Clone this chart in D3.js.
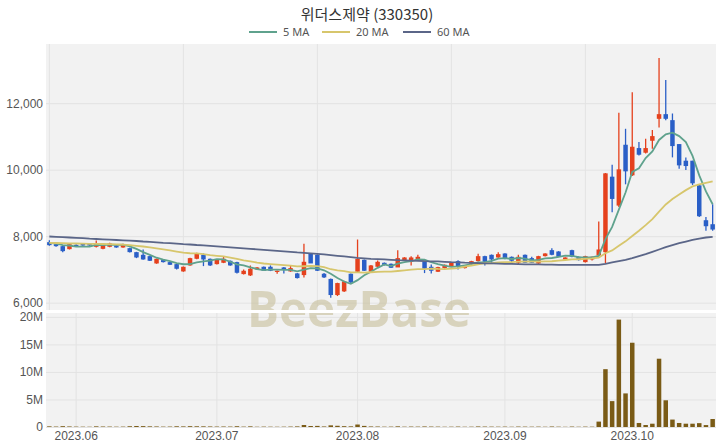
<!DOCTYPE html>
<html><head><meta charset="utf-8">
<script src="https://cdn.jsdelivr.net/npm/d3@7"></script>
<style>body{margin:0;background:#fff;} svg{display:block;font-family:"Noto Sans","Noto Sans CJK KR",sans-serif;}</style>
</head><body><svg id="c" width="720" height="448"></svg>
<script>
const dates = [
"2023-05-25","2023-05-26","2023-05-30","2023-05-31",
"2023-06-01","2023-06-02","2023-06-05","2023-06-07","2023-06-08","2023-06-09","2023-06-12","2023-06-13","2023-06-14","2023-06-15","2023-06-16","2023-06-19","2023-06-20","2023-06-21","2023-06-22","2023-06-23","2023-06-26","2023-06-27","2023-06-28","2023-06-29","2023-06-30",
"2023-07-03","2023-07-04","2023-07-05","2023-07-06","2023-07-07","2023-07-10","2023-07-11","2023-07-12","2023-07-13","2023-07-14","2023-07-17","2023-07-18","2023-07-19","2023-07-20","2023-07-21","2023-07-24","2023-07-25","2023-07-26","2023-07-27","2023-07-28","2023-07-31",
"2023-08-01","2023-08-02","2023-08-03","2023-08-04","2023-08-07","2023-08-08","2023-08-09","2023-08-10","2023-08-11","2023-08-14","2023-08-16","2023-08-17","2023-08-18","2023-08-21","2023-08-22","2023-08-23","2023-08-24","2023-08-25","2023-08-28","2023-08-29","2023-08-30","2023-08-31",
"2023-09-01","2023-09-04","2023-09-05","2023-09-06","2023-09-07","2023-09-08","2023-09-11","2023-09-12","2023-09-13","2023-09-14","2023-09-15","2023-09-18","2023-09-19","2023-09-20","2023-09-21","2023-09-22","2023-09-25","2023-09-26","2023-09-27",
"2023-10-04","2023-10-05","2023-10-06","2023-10-10","2023-10-11","2023-10-12","2023-10-13","2023-10-16","2023-10-17","2023-10-18","2023-10-19","2023-10-20","2023-10-23"];

const openP = [7820,7760,7700,7610,7740,7780,7780,7680,7620,7680,
7720,7660,7640,7520,7440,7400,7180,7280,7220,7160,
6940,7120,7320,7440,7320,7160,7200,7260,7220,6860,
6820,7000,7080,7080,6930,7060,6940,6880,6830,7480,
7440,6870,6715,6230,6340,6870,6930,7290,6930,7080,
7200,7170,7060,7280,7240,7280,7240,7080,6930,7040,
7100,7250,7040,7170,7250,7400,7440,7360,7480,7380,
7200,7440,7340,7180,7400,7580,7540,7300,7580,7380,
7220,7300,7420,7520,9790,8920,10750,9830,10650,10510,
10870,11530,11670,11490,10770,10270,10270,9530,8480,8360];

const highP = [7880,7780,7710,7770,7760,7790,7790,7870,7760,7800,
7730,7770,7650,7530,7600,7410,7330,7290,7230,7170,
7090,7350,7500,7480,7330,7310,7400,7270,7230,7000,
7120,7070,7090,7120,6970,7070,7110,6890,7770,7490,
7450,6890,6730,6600,6660,6880,7900,7300,7130,7270,
7210,7180,7580,7370,7400,7440,7250,7150,7080,7150,
7210,7280,7130,7260,7470,7410,7450,7520,7490,7390,
7440,7450,7380,7410,7490,7640,7550,7370,7590,7390,
7410,7390,8440,9900,10150,11710,11230,12330,10830,10930,
11190,13360,12700,11690,10770,10370,10270,9550,8580,8960];

const lowP = [7710,7680,7520,7600,7690,7710,7710,7660,7610,7670,
7650,7650,7510,7340,7290,7250,7170,7210,7130,7000,
6930,7110,7310,7100,7100,7150,7190,7110,6880,6850,
6800,6990,6950,6950,6870,6880,6930,6730,6760,7190,
6950,6740,6150,6200,6320,6570,6910,6950,6920,7070,
7120,7040,7090,7270,7120,7270,6890,6880,6920,7030,
7090,7000,7030,7160,7240,7120,7200,7350,7310,7200,
7150,7190,7190,7170,7390,7430,7370,7290,7370,7270,
7210,7270,7400,7180,8720,8880,9560,9810,10430,10490,
10630,11270,11490,10370,10030,9990,9540,8580,8160,8160];

const closeP = [7730,7700,7550,7760,7700,7720,7720,7780,7740,7780,
7660,7760,7520,7360,7300,7260,7320,7220,7140,7020,
7080,7340,7480,7300,7120,7300,7320,7120,6900,6960,
7020,7060,6960,6960,6960,7000,7040,6740,7230,7180,
6960,6760,6230,6590,6640,6610,7320,6960,7120,7230,
7130,7050,7340,7360,7360,7380,7020,6960,7070,7140,
7200,7090,7120,7250,7400,7230,7300,7460,7320,7260,
7380,7200,7200,7400,7480,7440,7380,7360,7380,7280,
7400,7380,7600,9890,9120,10010,9950,10690,10450,10650,
11010,11670,11530,10710,10130,10110,9590,8600,8300,8200];

const volume = [120000,80000,150000,100000,70000,60000,50000,120000,90000,80000,
60000,70000,140000,180000,160000,120000,100000,70000,80000,130000,
110000,150000,130000,120000,100000,80000,90000,80000,140000,70000,
120000,50000,70000,60000,50000,60000,80000,110000,360000,180000,
200000,100000,300000,220000,150000,120000,450000,200000,100000,90000,
60000,70000,120000,60000,80000,70000,100000,80000,70000,50000,
60000,80000,50000,60000,100000,80000,70000,60000,70000,50000,
80000,70000,60000,70000,50000,90000,60000,40000,80000,50000,
70000,60000,980000,10500000,4700000,19500000,6100000,15300000,730000,360000,
600000,12400000,4850000,1350000,730000,600000,600000,700000,350000,1450000];

const ma5 = [7800,7780,7730,7720,7688,7686,7690,7736,7732,7748,
7736,7744,7692,7616,7520,7440,7352,7292,7248,7192,
7156,7160,7212,7244,7264,7308,7304,7232,7152,7120,
7064,7012,6980,6992,6992,6988,6984,6940,6994,7038,
7030,6974,6872,6744,6636,6566,6678,6824,6930,7048,
7152,7098,7174,7222,7248,7298,7292,7216,7158,7114,
7078,7092,7124,7160,7212,7218,7260,7328,7342,7314,
7344,7324,7272,7288,7332,7344,7380,7412,7408,7368,
7360,7360,7408,7910,8278,8800,9314,9932,10044,10350,
10550,10894,11062,11114,11010,10830,10414,9828,9346,8960];

const ma20 = [7800,7795,7790,7785,7780,7775,7770,7770,7765,7760,
7755,7745,7730,7710,7690,7665,7635,7605,7570,7537,
7505,7487,7483,7460,7431,7410,7390,7357,7315,7274,
7242,7207,7179,7159,7142,7129,7115,7091,7096,7104,
7098,7069,7006,6971,6947,6912,6912,6904,6915,6929,
6934,6934,6953,6973,6993,7012,7011,7022,7014,7012,
7024,7040,7085,7118,7156,7187,7186,7211,7221,7222,
7235,7242,7235,7237,7243,7246,7264,7284,7300,7307,
7317,7331,7355,7487,7573,7712,7845,8006,8163,8332,
8514,8737,8954,9119,9252,9385,9496,9558,9604,9650];

const ma60 = [7990,7980,7970,7960,7950,7940,7925,7915,7905,7895,
7885,7875,7865,7855,7840,7830,7815,7800,7790,7775,
7760,7750,7735,7725,7710,7695,7680,7665,7650,7635,
7620,7605,7590,7575,7560,7545,7530,7510,7495,7480,
7465,7450,7430,7410,7390,7370,7350,7335,7320,7310,
7300,7290,7280,7275,7265,7260,7250,7245,7240,7230,
7220,7215,7205,7200,7190,7185,7180,7175,7170,7165,
7160,7155,7150,7150,7145,7145,7140,7140,7140,7135,
7135,7135,7140,7170,7210,7250,7290,7340,7400,7460,
7530,7600,7670,7730,7790,7840,7890,7930,7960,7980];

const priceTicks = [6000, 8000, 10000, 12000];
const volumeTicks = [0, 5000000, 10000000, 15000000, 20000000];
const monthTicks = ["2023-06-01","2023-07-03","2023-08-01","2023-09-01","2023-10-04"];
const monthLabels = ["2023.06","2023.07","2023.08","2023.09","2023.10"];
const maSeries = [
  {name:"5 MA", values: ma5, color:"#5fa28d"},
  {name:"20 MA", values: ma20, color:"#d7c66c"},
  {name:"60 MA", values: ma60, color:"#5b6688"}
];

const L=46, R=716, mT=44, mB=310, vT=313, vB=427;
const svg = d3.select('#c');
const x = d3.scaleBand().domain(dates).range([L,R]).paddingInner(0.33).paddingOuter(0.165);
const cx = d => x(d) + x.bandwidth()/2;
const y = d3.scaleLinear().domain([5780,13780]).range([mB,mT]);
const yv = d3.scaleLinear().domain([0,20700000]).range([vB,vT]);

const defs = svg.append('defs');
defs.append('clipPath').attr('id','cm').append('rect').attr('x',L).attr('y',mT).attr('width',R-L).attr('height',mB-mT);
defs.append('clipPath').attr('id','cv').append('rect').attr('x',L).attr('y',vT).attr('width',R-L).attr('height',vB-vT);

svg.append('rect').attr('x',L).attr('y',mT).attr('width',R-L).attr('height',mB-mT).attr('fill','#f2f2f2');
svg.append('rect').attr('x',L).attr('y',vT).attr('width',R-L).attr('height',vB-vT).attr('fill','#f2f2f2');

// grids main
const gy = svg.append('g').attr('transform',`translate(${L},0)`)
  .call(d3.axisLeft(y).tickValues(priceTicks).tickSize(-(R-L)).tickPadding(3).tickFormat(d3.format(',')));
gy.select('.domain').remove();
gy.selectAll('line').attr('stroke','#e3e3e3');
gy.selectAll('text').attr('fill','#555').style('font-size','12px');

const gx = svg.append('g').attr('transform',`translate(0,${mB})`)
  .call(d3.axisBottom(x).tickValues(dates.filter((d,i)=>i%20===0)).tickSize(-(mB-mT)).tickFormat(''));
gx.select('.domain').remove();
gx.selectAll('line').attr('stroke','#e3e3e3');

// grids volume
const gvy = svg.append('g').attr('transform',`translate(${L},0)`)
  .call(d3.axisLeft(yv).tickValues(volumeTicks).tickSize(-(R-L)).tickPadding(3).tickFormat(d => d===0 ? '0' : (d/1e6)+'M'));
gvy.select('.domain').remove();
gvy.selectAll('line').attr('stroke','#e3e3e3');
gvy.selectAll('text').attr('fill','#555').style('font-size','12px');

const gvx = svg.append('g').attr('transform',`translate(0,${vB})`)
  .call(d3.axisBottom(x).tickValues(monthTicks).tickSize(-(vB-vT)).tickPadding(4).tickFormat((d,i)=>monthLabels[i]));
gvx.select('.domain').remove();
gvx.selectAll('line').attr('stroke','#e3e3e3');
gvx.selectAll('text').attr('fill','#555').style('font-size','12px');

// watermark
['cm','cv'].forEach(id => {
  svg.append('text').attr('clip-path',`url(#${id})`)
    .attr('x',247).attr('y',327).attr('textLength',224).attr('lengthAdjust','spacingAndGlyphs')
    .style('font-family','"Open Sans",sans-serif').style('font-weight','700').style('font-size','50px')
    .attr('fill','#c8bf9a').attr('opacity',0.6).text('BeezBase');
});

// candles
const idx = d3.range(dates.length);
const gc = svg.append('g').attr('clip-path','url(#cm)');
const col = i => closeP[i] >= openP[i] ? '#e5411d' : '#2a5fc7';
gc.selectAll('line.w').data(idx).join('line')
  .attr('x1',i=>cx(dates[i])).attr('x2',i=>cx(dates[i]))
  .attr('y1',i=>y(highP[i])).attr('y2',i=>y(lowP[i]))
  .attr('stroke',col).attr('stroke-width',1.3);
gc.selectAll('rect.b').data(idx).join('rect')
  .attr('x',i=>x(dates[i])).attr('width',x.bandwidth())
  .attr('y',i=>y(Math.max(openP[i],closeP[i])))
  .attr('height',i=>Math.max(1.2, Math.abs(y(openP[i])-y(closeP[i]))))
  .attr('fill',col);

// MA lines
const line = d3.line().x((d,i)=>cx(dates[i])).y(d=>y(d));
maSeries.forEach(s => {
  gc.append('path').attr('d',line(s.values)).attr('fill','none')
    .attr('stroke',s.color).attr('stroke-width',1.8);
});

// volume
svg.append('g').selectAll('rect').data(idx).join('rect')
  .attr('x',i=>x(dates[i])).attr('width',x.bandwidth())
  .attr('y',i=>yv(volume[i])).attr('height',i=>vB-yv(volume[i]))
  .attr('fill','#7a5b16');

// title
svg.append('text').attr('x',367).attr('y',20).attr('text-anchor','middle')
  .style('font-family','"Noto Sans CJK KR",sans-serif').style('font-size','15px').attr('fill','#333')
  .text('위더스제약 (330350)');

// legend
const legX = [249, 322, 403];
const lg = svg.append('g');
maSeries.forEach((s,i) => {
  lg.append('line').attr('x1',legX[i]).attr('x2',legX[i]+28).attr('y1',32).attr('y2',32)
    .attr('stroke',s.color).attr('stroke-width',2);
  lg.append('text').attr('x',legX[i]+34).attr('y',36).style('font-size','11px').attr('fill','#555').text(s.name);
});
</script></body></html>
